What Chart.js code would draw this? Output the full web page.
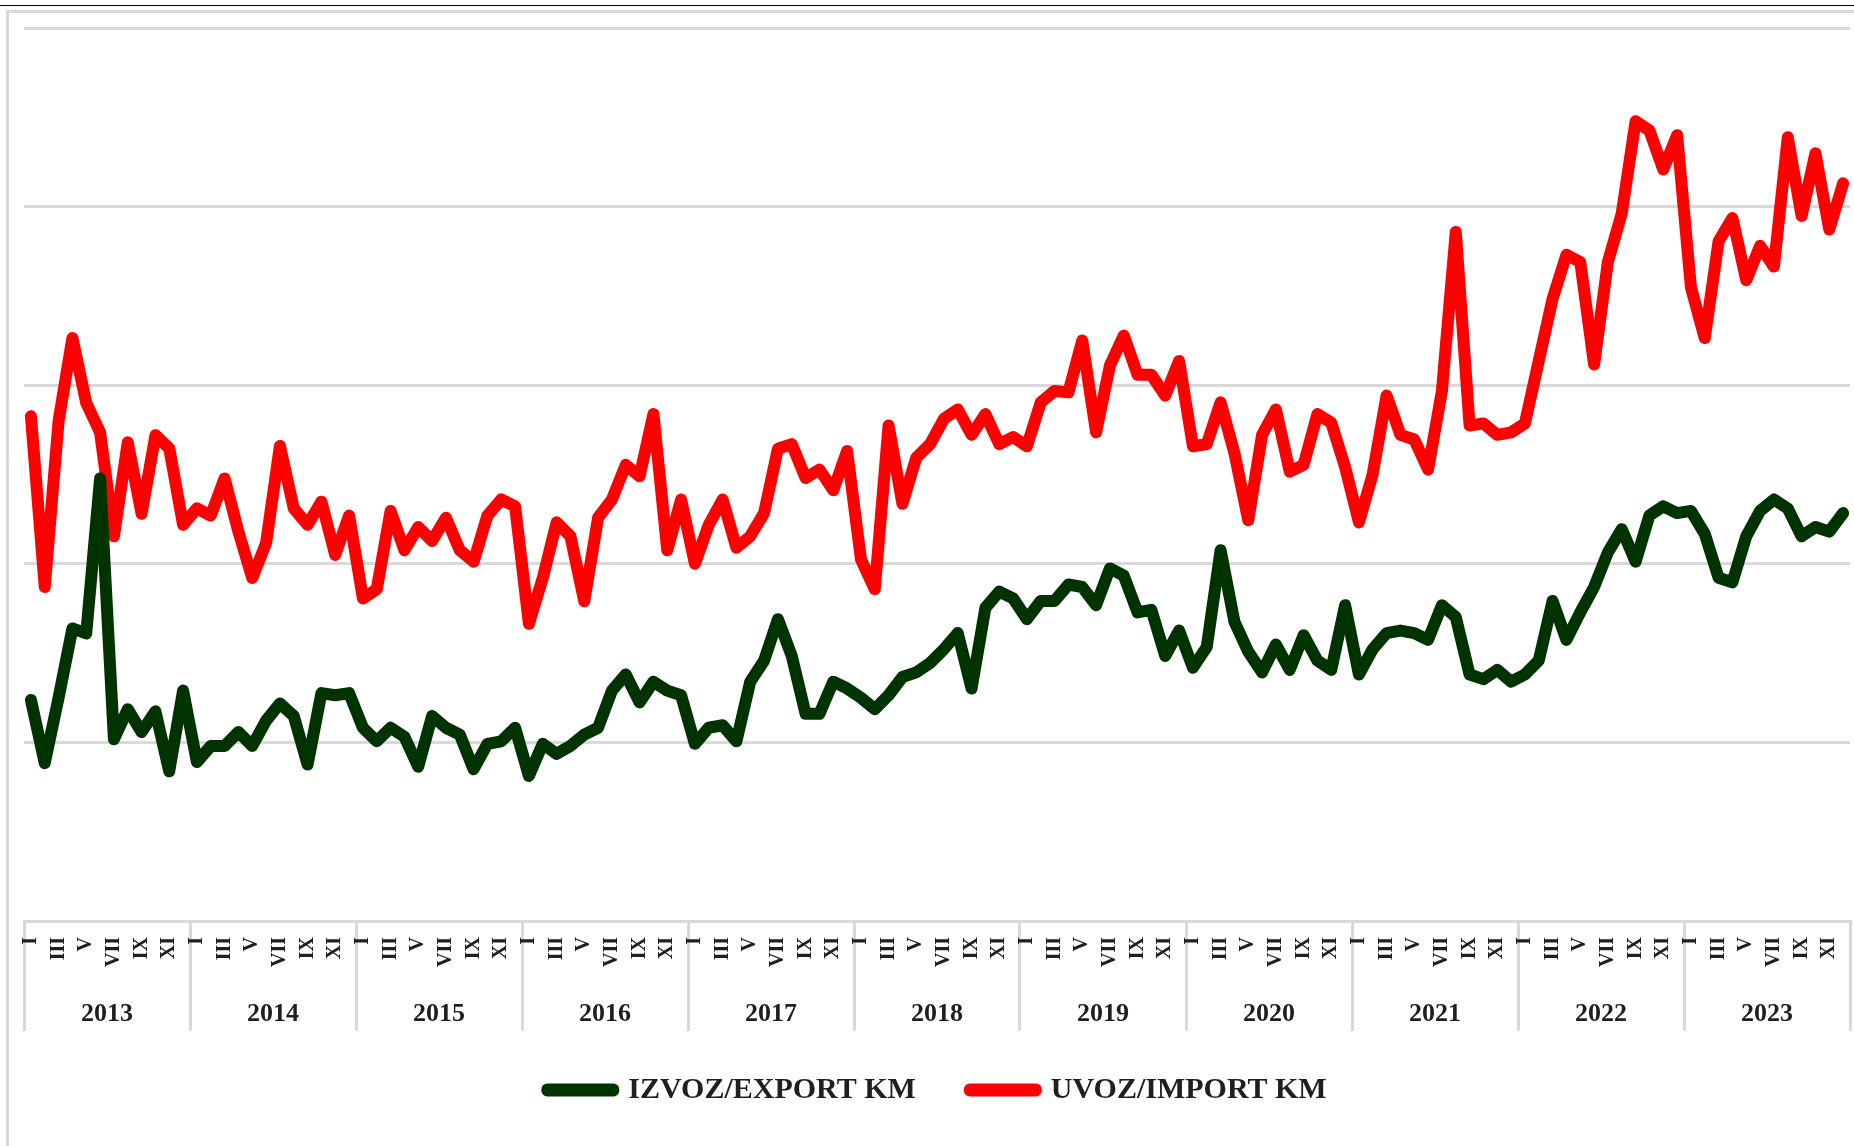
<!DOCTYPE html>
<html>
<head>
<meta charset="utf-8">
<script src="https://cdn.jsdelivr.net/npm/chart.js@4.4.1/dist/chart.umd.min.js"></script>
<style>
    body { margin: 0; background: #ffffff; }
    #okvir { position: relative; width: 1854px; height: 1146px; overflow: hidden; }
    #linijaGore { position: absolute; left: 0; top: 5px; width: 1854px; border-top: 1px solid #000; }
    #ramka { position: absolute; left: 6px; top: 10px; right: -4px; bottom: -4px;
             border-left: 3px solid #d9d9d9; border-top: 3px solid #d9d9d9; }
    #grafik { position: absolute; left: 0; top: 0; }
</style>
</head>
<body>
<div id="okvir">
    <div id="linijaGore"></div>
    <div id="ramka"></div>
    <canvas id="grafik" width="1854" height="1146"></canvas>
</div>
<script>
// ===== PODACI =====
const GODINE = ['2013', '2014', '2015', '2016', '2017', '2018', '2019', '2020', '2021', '2022', '2023'];
const MJESECI = ['I', 'II', 'III', 'IV', 'V', 'VI', 'VII', 'VIII', 'IX', 'X', 'XI', 'XII'];

// mil. KM, mjesečno (I 2013 - XII 2023)
const izvozKM = [
    619, 442, 625, 819, 805, 1239, 509, 593, 529, 587, 419, 645,
    445, 490, 490, 529, 490, 561, 609, 574, 438, 638, 632, 638,
    541, 503, 541, 516, 432, 574, 541, 522, 425, 496, 503, 541,
    406, 496, 468, 490, 522, 541, 645, 690, 612, 670, 645, 632,
    496, 541, 548, 503, 670, 729, 845, 742, 580, 580, 670, 651,
    625, 593, 632, 683, 696, 722, 761, 806, 651, 877, 922, 903,
    845, 896, 896, 942, 935, 884, 987, 967, 864, 871, 742, 813,
    709, 767, 1038, 838, 754, 696, 774, 703, 800, 729, 703, 884,
    690, 761, 806, 813, 806, 787, 884, 851, 690, 677, 703, 670,
    690, 729, 896, 787, 864, 935, 1032, 1097, 1006, 1135, 1161, 1142,
    1148, 1084, 961, 948, 1077, 1148, 1180, 1155, 1077, 1103, 1090, 1142
];

const uvozKM = [
    1413, 935, 1400, 1632, 1450, 1368, 1077, 1340, 1140, 1360, 1323, 1109,
    1155, 1135, 1239, 1090, 960, 1058, 1330, 1155, 1109, 1174, 1025, 1135,
    903, 929, 1148, 1038, 1103, 1064, 1129, 1038, 1006, 1135, 1180, 1161,
    832, 960, 1116, 1077, 895, 1129, 1180, 1277, 1245, 1419, 1038, 1180,
    1000, 1109, 1180, 1045, 1077, 1142, 1322, 1335, 1240, 1264, 1206, 1316,
    1013, 929, 1387, 1168, 1297, 1335, 1406, 1432, 1361, 1419, 1335, 1355,
    1329, 1452, 1484, 1480, 1625, 1368, 1555, 1639, 1529, 1529, 1471, 1568,
    1329, 1335, 1452, 1310, 1122, 1361, 1432, 1258, 1277, 1419, 1395, 1271,
    1116, 1252, 1471, 1361, 1348, 1264, 1484, 1929, 1387, 1393, 1361, 1368,
    1393, 1568, 1742, 1865, 1845, 1558, 1845, 1981, 2239, 2213, 2104, 2200,
    1774, 1632, 1903, 1968, 1794, 1890, 1832, 2194, 1974, 2149, 1936, 2065
];

// ===== OZNAKE OSE =====
const oznakeMjeseci = [];
GODINE.forEach(() => MJESECI.forEach(m => oznakeMjeseci.push(m)));

const SIVA = '#d9d9d9';
const TEKST = '#1f1f1f';
const FONT = 'Liberation Serif';

// ===== GRAFIK =====
const ctx = document.getElementById('grafik').getContext('2d');
window.grafik = new Chart(ctx, {
    type: 'line',
    data: {
        labels: oznakeMjeseci,
        datasets: [
            {
                label: 'IZVOZ/EXPORT KM',
                data: izvozKM,
                borderColor: '#003300',
                backgroundColor: '#003300',
                borderWidth: 12,
                borderJoinStyle: 'round',
                borderCapStyle: 'round',
                pointRadius: 0,
                tension: 0
            },
            {
                label: 'UVOZ/IMPORT KM',
                data: uvozKM,
                borderColor: '#ff0000',
                backgroundColor: '#ff0000',
                borderWidth: 12,
                borderJoinStyle: 'round',
                borderCapStyle: 'round',
                pointRadius: 0,
                tension: 0
            }
        ]
    },
    options: {
        responsive: false,
        animation: false,
        layout: {
            padding: { left: 24, right: 4, top: 28, bottom: 31 }
        },
        plugins: {
            tooltip: { enabled: false },
            legend: {
                position: 'bottom',
                labels: {
                    boxWidth: 66,
                    boxHeight: 1,
                    padding: 54,
                    color: TEKST,
                    font: { family: FONT, weight: 'bold', size: 30 }
                }
            }
        },
        scales: {
            x: {
                type: 'category',
                position: 'bottom',
                offset: true,
                afterFit: function (s) { s.height = 60; },
                border: { display: true, color: SIVA, width: 3 },
                grid: {
                    offset: true,
                    drawOnChartArea: false,
                    drawTicks: true,
                    tickLength: 110,
                    lineWidth: 3,
                    color: function (c) {
                        return (c.index === undefined || c.index % 12 === 0) ? SIVA : 'rgba(0,0,0,0)';
                    }
                },
                ticks: {
                    autoSkip: false,
                    minRotation: 90,
                    maxRotation: 90,
                    padding: -94,
                    color: TEKST,
                    font: { family: FONT, weight: 'bold', size: 20 },
                    callback: function (value, index) {
                        return index % 2 === 0 ? this.getLabelForValue(value) : '';
                    }
                }
            },
            godine: {
                type: 'category',
                position: 'bottom',
                labels: GODINE,
                offset: true,
                min: 0,
                max: GODINE.length - 1,
                afterFit: function (s) { s.height = 40; },
                border: { display: false },
                grid: { display: false, drawTicks: false },
                ticks: {
                    autoSkip: false,
                    maxRotation: 0,
                    padding: 18,
                    color: TEKST,
                    font: { family: FONT, weight: 'bold', size: 26 }
                }
            },
            y: {
                min: 0,
                max: 2500,
                border: { display: false },
                grid: { color: SIVA, lineWidth: 3, drawTicks: false },
                ticks: { display: false, stepSize: 500 }
            }
        }
    }
});
</script>
</body>
</html>
